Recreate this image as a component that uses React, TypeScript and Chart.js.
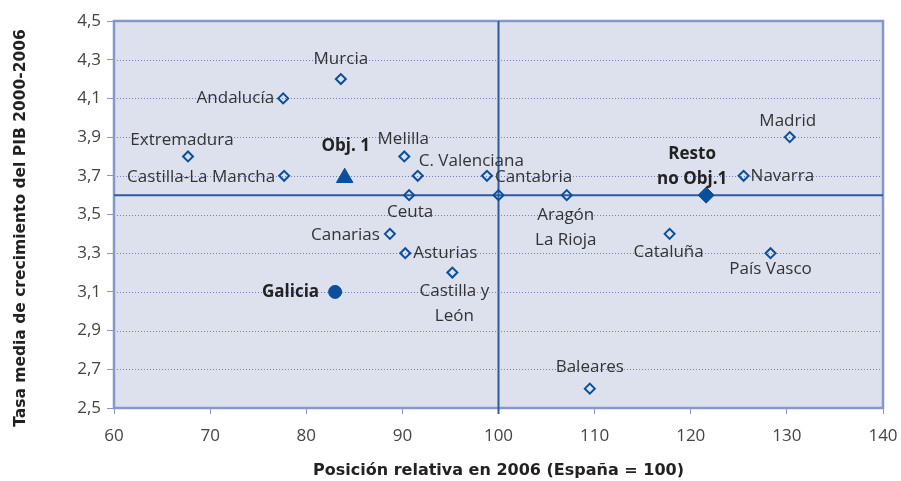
import React, { useEffect, useRef } from "react";
import { Chart, registerables } from "chart.js";

Chart.register(...registerables);

// ---- Data ----
const regionNames = [
  "Murcia", "Andalucía", "Extremadura", "Castilla-La Mancha", "Melilla",
  "C. Valenciana", "Cantabria", "Ceuta", "Aragón\nLa Rioja", "Canarias",
  "Asturias", "Castilla y\nLeón", "Baleares", "Cataluña", "País Vasco",
  "Madrid", "Navarra", "",
];
const regionX = [83.6, 77.6, 67.7, 77.7, 90.2, 91.6, 98.8, 90.7, 107.1, 88.7, 90.3, 95.2, 109.5, 117.8, 128.3, 130.3, 125.5, 100];
const regionY = [4.2, 4.1, 3.8, 3.7, 3.8, 3.7, 3.7, 3.6, 3.6, 3.4, 3.3, 3.2, 2.6, 3.4, 3.3, 3.9, 3.7, 3.6];

const galiciaPoint = { name: "Galicia", x: 83.0, y: 3.1 };
const obj1Point = { name: "Obj. 1", x: 84.0, y: 3.69 };
const restoPoint = { name: "Resto\nno Obj.1", x: 121.6, y: 3.6 };

const xTicksRange = { min: 60, max: 140, step: 10 };
const yTicksRange = { min: 2.5, max: 4.5, step: 0.2 };
const refX = 100;
const refY = 3.6;

const xTitle = "Posición relativa en 2006 (España = 100)";
const yTitle = "Tasa media de crecimiento del PIB 2000-2006";

// ---- Label placement (style) ----
type Place = { align: CanvasTextAlign; dx: number; dy: number };
const regionPlace: Place[] = [
  { align: "center", dx: 0, dy: -20 },   // Murcia
  { align: "right", dx: -9, dy: 0 },     // Andalucía
  { align: "center", dx: -6, dy: -16 },  // Extremadura
  { align: "right", dx: -9, dy: 1 },     // CLM
  { align: "center", dx: -1, dy: -17 },  // Melilla
  { align: "left", dx: 1, dy: -15 },     // C. Valenciana
  { align: "left", dx: 8, dy: 1 },       // Cantabria
  { align: "center", dx: 1, dy: 17 },    // Ceuta
  { align: "center", dx: -1, dy: 20 },   // Aragón / La Rioja
  { align: "right", dx: -10, dy: 1 },    // Canarias
  { align: "left", dx: 8, dy: 0 },       // Asturias
  { align: "center", dx: 2, dy: 19 },    // Castilla y León
  { align: "center", dx: 0, dy: -21 },   // Baleares
  { align: "center", dx: -1, dy: 18 },   // Cataluña
  { align: "center", dx: 0, dy: 16 },    // País Vasco
  { align: "center", dx: -2, dy: -16 },  // Madrid
  { align: "left", dx: 7, dy: 0 },       // Navarra
  { align: "center", dx: 0, dy: 0 },     // España
];
const galiciaPlace: Place = { align: "right", dx: -16, dy: 0 };
const obj1Place: Place = { align: "center", dx: 1, dy: -32 };
const restoPlace: Place = { align: "center", dx: -14, dy: -41 };

const MARK = "#0b4f9c";
const LINE = "#2f5b9e";
const BG = "#dde1ee";
const FRAME = "#8797cc";
const GRID = "#6f80c2";
const TEXT = "#333333";
const BOLD_TEXT = "#222222";
const FONT = "'Open Sans', 'Noto Sans', sans-serif";

const fmt = (v: number) => v.toFixed(1).replace(".", ",");

export default function App() {
  const canvasRef = useRef<HTMLCanvasElement | null>(null);

  useEffect(() => {
    document.body.style.margin = "0";
    const canvas = canvasRef.current;
    if (!canvas) return;

    const bgPlugin = {
      id: "bgPlugin",
      beforeDatasetsDraw(chart: any) {
        const { ctx, chartArea: a, scales } = chart;
        const xs = scales.x;
        const ys = scales.y;
        ctx.save();
        ctx.fillStyle = BG;
        ctx.fillRect(a.left, a.top, a.right - a.left, a.bottom - a.top);
        // dotted grid
        ctx.strokeStyle = GRID;
        ctx.lineWidth = 1;
        ctx.setLineDash([1, 2]);
        ys.ticks.forEach((t: any) => {
          const py = Math.round(ys.getPixelForValue(t.value)) + 0.5;
          if (py <= a.top + 2 || py >= a.bottom - 2) return;
          ctx.beginPath();
          ctx.moveTo(a.left, py);
          ctx.lineTo(a.right, py);
          ctx.stroke();
        });
        ctx.setLineDash([]);
        // frame
        ctx.strokeStyle = FRAME;
        ctx.lineWidth = 2.5;
        ctx.strokeRect(a.left, a.top, a.right - a.left, a.bottom - a.top);
        // reference lines
        ctx.strokeStyle = LINE;
        ctx.lineWidth = 2;
        const px = xs.getPixelForValue(refX);
        const py = ys.getPixelForValue(refY);
        ctx.beginPath();
        ctx.moveTo(px, a.top);
        ctx.lineTo(px, a.bottom + 6);
        ctx.moveTo(a.left, py);
        ctx.lineTo(a.right, py);
        ctx.stroke();
        ctx.restore();
      },
      afterDatasetsDraw(chart: any) {
        const { ctx, chartArea: a, scales } = chart;
        const xs = scales.x;
        const ys = scales.y;
        ctx.save();
        ctx.textBaseline = "middle";
        const drawLabel = (text: string, x: number, y: number, p: Place, bold: boolean, lh: number) => {
          if (!text) return;
          const px = xs.getPixelForValue(x) + p.dx;
          const py = ys.getPixelForValue(y) + p.dy;
          ctx.font = (bold ? "bold 17px " : "17px ") + FONT;
          ctx.fillStyle = bold ? BOLD_TEXT : TEXT;
          ctx.textAlign = p.align;
          text.split("\n").forEach((line, i) => ctx.fillText(line, px, py + i * lh));
        };
        regionNames.forEach((n, i) => drawLabel(n, regionX[i], regionY[i], regionPlace[i], false, 25));
        drawLabel(galiciaPoint.name, galiciaPoint.x, galiciaPoint.y, galiciaPlace, true, 25);
        drawLabel(obj1Point.name, obj1Point.x, obj1Point.y, obj1Place, true, 25);
        drawLabel(restoPoint.name, restoPoint.x, restoPoint.y, restoPlace, true, 25);

        // axis titles
        ctx.fillStyle = BOLD_TEXT;
        ctx.textAlign = "center";
        ctx.font = "bold 16px 'DejaVu Sans', sans-serif";
        ctx.fillText(xTitle, (a.left + a.right) / 2, 471);
        ctx.translate(21, 228);
        ctx.rotate(-Math.PI / 2);
        ctx.font = "bold 15.5px 'DejaVu Sans', sans-serif";
        ctx.fillText(yTitle, 0, 0);
        ctx.restore();
      },
    };

    const chart = new Chart(canvas, {
      type: "scatter",
      data: {
        datasets: [
          {
            label: "Regiones",
            data: regionX.map((x, i) => ({ x, y: regionY[i] })),
            pointStyle: "rectRot",
            pointRadius: 5,
            pointBorderWidth: 2,
            borderColor: MARK,
            backgroundColor: "rgba(0,0,0,0)",
          },
          {
            label: galiciaPoint.name,
            data: [{ x: galiciaPoint.x, y: galiciaPoint.y }],
            pointStyle: "circle",
            pointRadius: 6.5,
            pointBorderWidth: 1,
            borderColor: MARK,
            backgroundColor: MARK,
          },
          {
            label: obj1Point.name,
            data: [{ x: obj1Point.x, y: obj1Point.y }],
            pointStyle: "triangle",
            pointRadius: 9.5,
            pointBorderWidth: 1,
            borderColor: MARK,
            backgroundColor: MARK,
          },
          {
            label: restoPoint.name,
            data: [{ x: restoPoint.x, y: restoPoint.y }],
            pointStyle: "rectRot",
            pointRadius: 8,
            pointBorderWidth: 1,
            borderColor: MARK,
            backgroundColor: MARK,
          },
        ],
      },
      options: {
        animation: false,
        responsive: true,
        maintainAspectRatio: false,
        layout: { padding: { top: 21, right: 18, left: 0, bottom: 0 } },
        plugins: {
          legend: { display: false },
          tooltip: { enabled: false },
        },
        scales: {
          x: {
            type: "linear",
            min: xTicksRange.min,
            max: xTicksRange.max,
            ticks: {
              stepSize: xTicksRange.step,
              color: "#444",
              font: { family: FONT, size: 17 },
              padding: 12,
            },
            grid: { display: true, drawOnChartArea: false, tickLength: 6, color: FRAME },
            border: { display: false },
            afterFit: (s: any) => { s.height = 73; s.paddingLeft = 0; s.paddingRight = 0; },
          },
          y: {
            type: "linear",
            min: yTicksRange.min,
            max: yTicksRange.max,
            ticks: {
              stepSize: yTicksRange.step,
              color: "#444",
              font: { family: FONT, size: 17 },
              padding: 6,
              callback: (v: any) => fmt(Number(v)),
            },
            grid: { display: true, drawOnChartArea: false, tickLength: 7, color: FRAME },
            border: { display: false },
            afterFit: (s: any) => { s.width = 114; s.paddingTop = 0; s.paddingBottom = 0; },
          },
        },
      },
      plugins: [bgPlugin],
    } as any);

    return () => chart.destroy();
  }, []);

  return (
    <div style={{ position: "fixed", left: 0, top: 0, width: 901, height: 481, background: "#fff" }}>
      <canvas ref={canvasRef} />
    </div>
  );
}
